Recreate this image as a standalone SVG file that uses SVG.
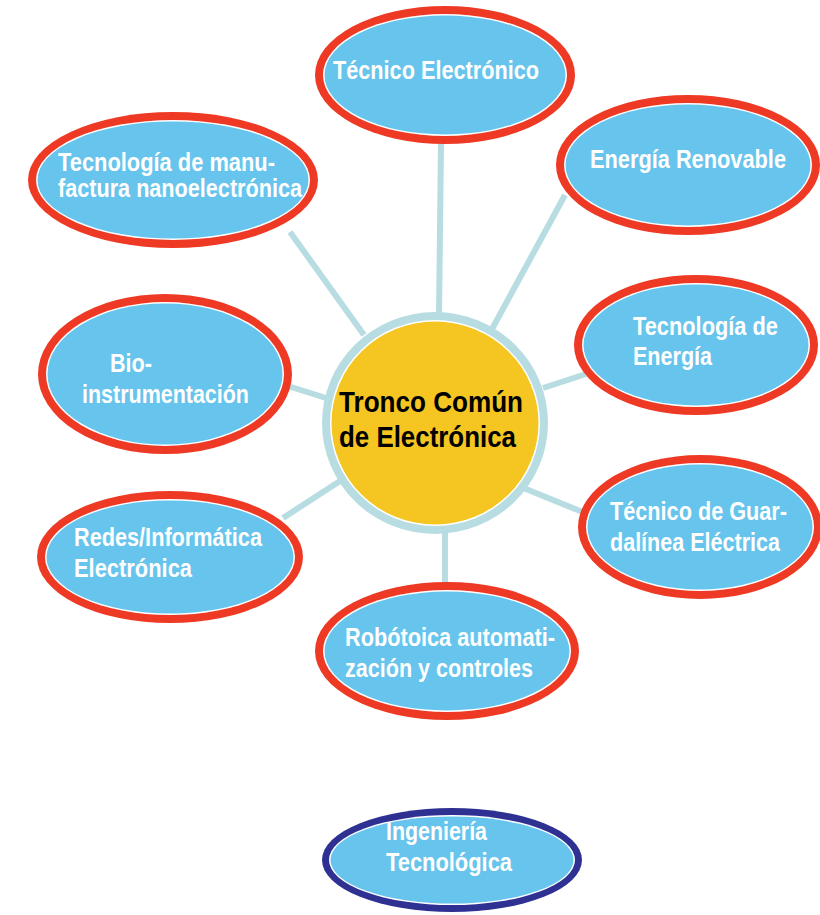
<svg xmlns="http://www.w3.org/2000/svg" width="820" height="915" viewBox="0 0 820 915">
<style>
.red{fill:#EE3A24}
.navy{fill:#2E3192}
.wh{fill:#FFFFFF}
.blue{fill:#67C4EC}
.t{font-family:"Liberation Sans",Arial,sans-serif;font-weight:bold;font-size:25px;fill:#FFFFFF}
.c{font-family:"Liberation Sans",Arial,sans-serif;font-weight:bold;font-size:30px;fill:#000000}
.ln{stroke:#B7DDE2;stroke-width:6;stroke-linecap:butt;fill:none}
</style>
<rect width="820" height="915" fill="#FFFFFF"/>
<g id="connectors">
<line class="ln" x1="441" y1="142" x2="439" y2="316"/>
<line class="ln" x1="565" y1="195" x2="492" y2="329"/>
<line class="ln" x1="290" y1="232" x2="364" y2="335"/>
<line class="ln" x1="543" y1="388" x2="586" y2="374"/>
<line class="ln" x1="288" y1="386" x2="326" y2="398"/>
<line class="ln" x1="283" y1="518" x2="340" y2="481"/>
<line class="ln" x1="521" y1="487" x2="585" y2="513"/>
<line class="ln" x1="445" y1="530" x2="445" y2="586"/>
</g>
<g id="center">
<ellipse cx="435" cy="423" rx="113" ry="111" fill="#B7DDE2"/>
<ellipse cx="435" cy="423" rx="105" ry="103" class="wh"/>
<ellipse cx="435" cy="423" rx="103.5" ry="101.5" fill="#F5C621"/>
<text class="c" x="339" y="412" textLength="184" lengthAdjust="spacingAndGlyphs">Tronco Común</text>
<text class="c" x="339" y="447" textLength="177" lengthAdjust="spacingAndGlyphs">de Electrónica</text>
</g>
<g id="tecnico-electronico">
<ellipse cx="445" cy="75" rx="130" ry="69" class="red"/>
<ellipse cx="445" cy="75" rx="122" ry="61" class="wh"/>
<ellipse cx="445" cy="75" rx="120.5" ry="59.5" class="blue"/>
<text class="t" x="333" y="79" font-size="26" textLength="206" lengthAdjust="spacingAndGlyphs">Técnico Electrónico</text>
</g>
<g id="energia-renovable">
<ellipse cx="688" cy="165" rx="132" ry="70" class="red"/>
<ellipse cx="688" cy="165" rx="124" ry="62" class="wh"/>
<ellipse cx="688" cy="165" rx="122.5" ry="60.5" class="blue"/>
<text class="t" x="590" y="168" textLength="196" lengthAdjust="spacingAndGlyphs">Energía Renovable</text>
</g>
<g id="nanoelectronica">
<ellipse cx="173" cy="180" rx="145" ry="68" class="red"/>
<ellipse cx="173" cy="180" rx="137" ry="60" class="wh"/>
<ellipse cx="173" cy="180" rx="135.5" ry="58.5" class="blue"/>
<text class="t" x="58" y="171" font-size="22" textLength="217" lengthAdjust="spacingAndGlyphs">Tecnología de manu-</text>
<text class="t" x="58" y="197" font-size="22" textLength="244" lengthAdjust="spacingAndGlyphs">factura nanoelectrónica</text>
</g>
<g id="tecnologia-energia">
<ellipse cx="696" cy="345" rx="122" ry="70" class="red"/>
<ellipse cx="696" cy="345" rx="114" ry="62" class="wh"/>
<ellipse cx="696" cy="345" rx="112.5" ry="60.5" class="blue"/>
<text class="t" x="633" y="335" textLength="145" lengthAdjust="spacingAndGlyphs">Tecnología de</text>
<text class="t" x="633" y="365" textLength="79" lengthAdjust="spacingAndGlyphs">Energía</text>
</g>
<g id="bioinstrumentacion">
<ellipse cx="165" cy="374" rx="127" ry="80" class="red"/>
<ellipse cx="165" cy="374" rx="119" ry="72" class="wh"/>
<ellipse cx="165" cy="374" rx="117.5" ry="70.5" class="blue"/>
<text class="t" x="110" y="372" textLength="42" lengthAdjust="spacingAndGlyphs">Bio-</text>
<text class="t" x="82" y="403" textLength="167" lengthAdjust="spacingAndGlyphs">instrumentación</text>
</g>
<g id="redes">
<ellipse cx="170" cy="557" rx="133" ry="66" class="red"/>
<ellipse cx="170" cy="557" rx="125" ry="58" class="wh"/>
<ellipse cx="170" cy="557" rx="123.5" ry="56.5" class="blue"/>
<text class="t" x="74" y="546" textLength="188" lengthAdjust="spacingAndGlyphs">Redes/Informática</text>
<text class="t" x="74" y="577" textLength="118" lengthAdjust="spacingAndGlyphs">Electrónica</text>
</g>
<g id="robotica">
<ellipse cx="447" cy="651" rx="132" ry="69" class="red"/>
<ellipse cx="447" cy="651" rx="124" ry="61" class="wh"/>
<ellipse cx="447" cy="651" rx="122.5" ry="59.5" class="blue"/>
<text class="t" x="345" y="646" textLength="210" lengthAdjust="spacingAndGlyphs">Robótoica automati-</text>
<text class="t" x="345" y="677" textLength="188" lengthAdjust="spacingAndGlyphs">zación y controles</text>
</g>
<g id="guardalinea">
<ellipse cx="700" cy="527" rx="122" ry="72" class="red"/>
<ellipse cx="700" cy="527" rx="114" ry="64" class="wh"/>
<ellipse cx="700" cy="527" rx="112.5" ry="62.5" class="blue"/>
<text class="t" x="610" y="520" textLength="177" lengthAdjust="spacingAndGlyphs">Técnico de Guar-</text>
<text class="t" x="610" y="551" textLength="170" lengthAdjust="spacingAndGlyphs">dalínea Eléctrica</text>
</g>
<g id="ingenieria">
<ellipse cx="452" cy="860" rx="130" ry="52" class="navy"/>
<ellipse cx="452" cy="860" rx="123" ry="45" class="wh"/>
<ellipse cx="452" cy="860" rx="121.5" ry="43.5" class="blue"/>
<text class="t" x="386" y="840" textLength="101" lengthAdjust="spacingAndGlyphs">Ingeniería</text>
<text class="t" x="386" y="871" textLength="126" lengthAdjust="spacingAndGlyphs">Tecnológica</text>
</g>
</svg>
